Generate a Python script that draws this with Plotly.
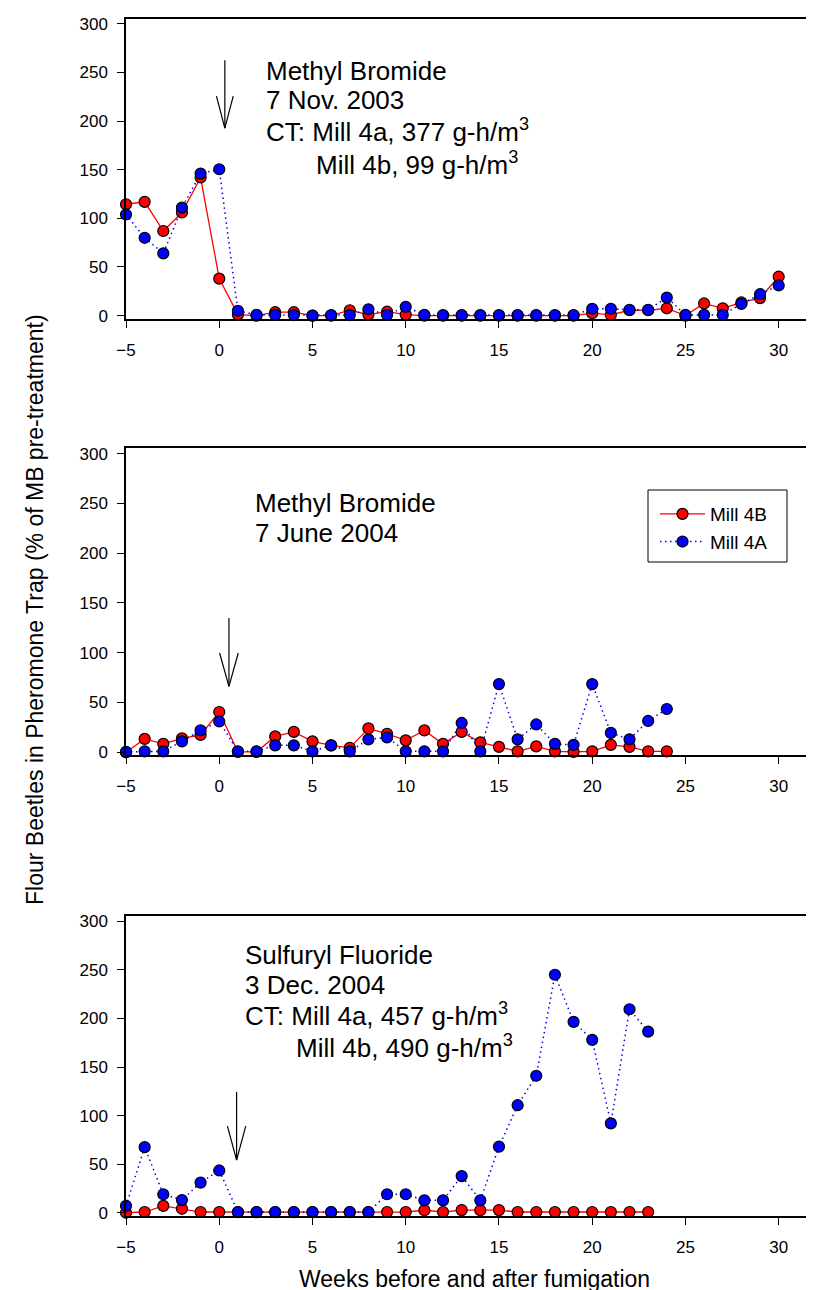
import plotly.graph_objects as go

# ---------------- data ----------------
weeks_p1 = list(range(-5, 31))
mill4b_p1 = [114.5, 117, 87, 106, 142, 38, 1, 0, 3.5, 3.5, 0, 0, 5.5, 1, 4, 1, 0, 0, 0, 0,
             0, 0, 0, 0, 0, 2.5, 0.7, 5.5, 5.5, 7.5, 0, 12.5, 7.5, 13.5, 18, 40]
mill4a_p1 = [104, 80, 64, 111, 146, 150.5, 5, 0.7, 0.7, 0.5, 0, 0.5, 0.5, 6.5, 0.7, 9, 0.7, 0.5, 0.5, 0.5,
             0.5, 0.5, 0.5, 0.5, 0.5, 7, 7, 6, 6, 18.5, 0.7, 0.7, 0.7, 12, 22, 31]

weeks_p2 = list(range(-5, 25))
mill4b_p2 = [0, 13.5, 8.5, 14, 17.5, 40.5, 0.5, 0.5, 16, 20.5, 11, 7, 4.5, 24, 18.5, 12, 22, 8.5, 20.5, 10,
             5.5, 1, 6, 1, 0.5, 1, 7.5, 5.5, 1, 1]
mill4a_p2 = [0.5, 1, 1, 11, 22, 31, 1, 1, 7, 7, 1, 7, 1, 13, 15, 1, 1, 1, 29.5, 1,
             68.5, 13, 28, 8.5, 7.5, 68.5, 19.5, 13, 31.5, 43.5]

weeks_p3 = list(range(-5, 24))
mill4b_p3 = [0, 0.7, 7, 4, 0.7, 0.7, 0.5, 0.5, 0.5, 0.5, 0.5, 0.5, 0.5, 0.5, 0.7, 0.7, 2.5, 0.7, 2.7, 2.5,
             2.7, 0.7, 0.7, 0.7, 0.7, 0.7, 0.7, 0.7, 0.7]
mill4a_p3 = [7, 67.5, 19, 13, 31, 43.5, 0.7, 0.7, 0.7, 0.7, 0.7, 0.7, 0.7, 0.7, 19, 19, 12.7, 12.7, 37.7, 12.7,
             68, 110.7, 141, 245, 196.5, 178, 92, 209.5, 186.5]

x_ticks = [-5, 0, 5, 10, 15, 20, 25, 30]
y_ticks = [0, 50, 100, 150, 200, 250, 300]
series_names = ["Mill 4B", "Mill 4A"]

panel_texts = [
    ["Methyl Bromide", "7 Nov. 2003", "CT: Mill 4a, 377 g-h/m<sup>3</sup>", "Mill 4b, 99 g-h/m<sup>3</sup>"],
    ["Methyl Bromide", "7 June 2004"],
    ["Sulfuryl Fluoride", "3 Dec. 2004", "CT: Mill 4a, 457 g-h/m<sup>3</sup>", "Mill 4b, 490 g-h/m<sup>3</sup>"],
]
y_title = "Flour Beetles in Pheromone Trap (% of MB pre-treatment)"
x_title = "Weeks before and after fumigation"

# ---------------- layout helpers ----------------
W, H = 814, 1290
ML, MR, MT, MB = 118, 6, 11, 82
PW, PH = W - ML - MR, H - MT - MB
FONT = "Liberation Sans, Arial, sans-serif"


def px_x(p):
    return (p - ML) / PW


def px_y(p):
    return (H - MB - p) / PH


domains = [[px_y(311), 1.0], [px_y(747.3), px_y(440)], [0.0, px_y(908.3)]]
yranges = [[-3.5, 305], [-3.0, 305.7], [-3.4, 305.2]]

RED, BLUE = "#ff0000", "#0000ff"
DOT = "1.5px,3.5px"

fig = go.Figure()
panels = [
    (weeks_p1, mill4b_p1, mill4a_p1),
    (weeks_p2, mill4b_p2, mill4a_p2),
    (weeks_p3, mill4b_p3, mill4a_p3),
]
for i, (wk, b, a) in enumerate(panels):
    xa = "x" if i == 0 else f"x{i+1}"
    ya = "y" if i == 0 else f"y{i+1}"
    fig.add_trace(go.Scatter(
        x=wk, y=b, mode="lines+markers", name=series_names[0], legendgroup="b",
        showlegend=(i == 1), xaxis=xa, yaxis=ya, cliponaxis=False,
        line=dict(color=RED, width=1.3, dash="solid"),
        marker=dict(size=11, color=RED, line=dict(color="black", width=1.2)),
    ))
    fig.add_trace(go.Scatter(
        x=wk, y=a, mode="lines+markers", name=series_names[1], legendgroup="a",
        showlegend=(i == 1), xaxis=xa, yaxis=ya, cliponaxis=False,
        line=dict(color=BLUE, width=1.5, dash=DOT),
        marker=dict(size=11, color=BLUE, line=dict(color="black", width=1.2)),
    ))

axis_common = dict(
    showline=True, linecolor="black", linewidth=1.5, mirror=True,
    ticks="outside", ticklen=7, tickwidth=1.2, tickcolor="black",
    showgrid=False, zeroline=False, automargin=False,
    tickfont=dict(family=FONT, size=17, color="black"),
)

layout_axes = {}
for i in range(3):
    xk = "xaxis" if i == 0 else f"xaxis{i+1}"
    yk = "yaxis" if i == 0 else f"yaxis{i+1}"
    xa_anchor = "y" if i == 0 else f"y{i+1}"
    ya_anchor = "x" if i == 0 else f"x{i+1}"
    layout_axes[xk] = dict(axis_common, domain=[0, 1], range=[-5, 32], tickmode="array",
                           tickvals=x_ticks, anchor=xa_anchor, ticklabelstandoff=8)
    layout_axes[yk] = dict(axis_common, domain=domains[i], range=yranges[i], tickmode="array",
                           tickvals=y_ticks, anchor=ya_anchor, ticklabelstandoff=6)

# arrows (fumigation markers), in data coords of each panel: x, top, tip, head base, half width
arrows = [
    (0.3, 262.6, 192.7, 225.6, 0.45),
    (0.52, 134.9, 66.3, 99.8, 0.5),
    (0.93, 124.4, 54.2, 89.2, 0.49),
]
shapes = []
for i, (ax_, top, tip, base, hw) in enumerate(arrows):
    xr = "x" if i == 0 else f"x{i+1}"
    yr = "y" if i == 0 else f"y{i+1}"
    ln = dict(color="black", width=1.2)
    shapes.append(dict(type="line", xref=xr, yref=yr, x0=ax_, x1=ax_, y0=top, y1=tip, line=ln))
    shapes.append(dict(type="line", xref=xr, yref=yr, x0=ax_ - hw, x1=ax_, y0=base, y1=tip, line=ln))
    shapes.append(dict(type="line", xref=xr, yref=yr, x0=ax_ + hw, x1=ax_, y0=base, y1=tip, line=ln))

# legend frame (drawn as a rectangle around the legend entries)
shapes.append(dict(type="rect", xref="paper", yref="paper",
                   x0=px_x(640), x1=px_x(779), y0=px_y(554), y1=px_y(482),
                   line=dict(color="black", width=1), fillcolor="rgba(0,0,0,0)"))

# annotation text lines: (panel, line index) -> (left px, baseline px)
text_pos = [
    [(256, 73.5), (256, 102), (256, 134), (306, 166.5)],
    [(245, 505), (245, 535)],
    [(235, 956.5), (235, 986.5), (235, 1018), (286, 1050)],
]
annotations = []
for i, lines in enumerate(panel_texts):
    for j, t in enumerate(lines):
        lx, bl = text_pos[i][j]
        annotations.append(dict(
            text=t, xref="paper", yref="paper", x=px_x(lx), y=px_y(bl + 7),
            xanchor="left", yanchor="bottom", showarrow=False,
            font=dict(family=FONT, size=26, color="black"),
        ))

annotations.append(dict(
    text=y_title, xref="paper", yref="paper", x=px_x(27), y=px_y(602),
    xanchor="center", yanchor="middle", textangle=-90, showarrow=False,
    font=dict(family=FONT, size=23, color="black"),
))
annotations.append(dict(
    text=x_title, xref="paper", yref="paper", x=px_x(466), y=px_y(1271),
    xanchor="center", yanchor="middle", showarrow=False,
    font=dict(family=FONT, size=23, color="black"),
))

fig.update_layout(
    width=W, height=H,
    margin=dict(l=ML, r=MR, t=MT, b=MB, pad=0, autoexpand=False),
    paper_bgcolor="white", plot_bgcolor="white",
    font=dict(family=FONT, color="black"),
    showlegend=True,
    legend=dict(
        x=px_x(647), y=px_y(487), xanchor="left", yanchor="top",
        bgcolor="rgba(0,0,0,0)", borderwidth=0,
        font=dict(family=FONT, size=19, color="black"),
        tracegroupgap=0, itemwidth=45,
    ),
    shapes=shapes,
    annotations=annotations,
    **layout_axes,
)

fig.write_html("out.html")
